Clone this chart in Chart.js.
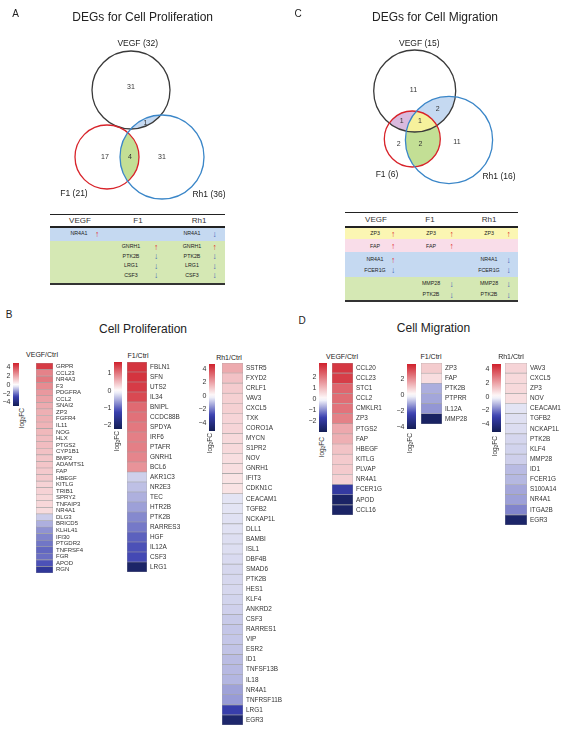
<!DOCTYPE html>
<html>
<head>
<meta charset="utf-8">
<script src="https://cdn.jsdelivr.net/npm/chart.js@4.4.1/dist/chart.umd.min.js"></script>
<style>
  body { margin: 0; width: 572px; height: 740px; position: relative; overflow: hidden; background: #fff;
         font-family: "Liberation Sans", Arial, sans-serif; color: #222; }
  canvas { position: absolute; }
  .t { position: absolute; transform: translate(-50%, -50%); white-space: nowrap; line-height: 1; }
  .lfc { position: absolute; transform: translate(-50%, -50%) rotate(-90deg); white-space: nowrap; line-height: 1; font-size: 6.5px; color: #333; }
  .lfc sub { font-size: 4.5px; vertical-align: -1px; }
  .band, .rule { position: absolute; }
  .up { color: #e0302c; }
  .down { color: #3a62b4; }
</style>
</head>
<body>
<script>
// ---- Venn counts ----
const prolifSetNames = ['VEGF', 'F1', 'Rh1'];
const prolifSetSizes = [32, 21, 36];
// regions: VEGF only, F1 only, F1∩Rh1, Rh1 only, VEGF∩Rh1
const prolifRegionCounts = [31, 17, 4, 31, 1];

const migSetNames = ['VEGF', 'F1', 'Rh1'];
const migSetSizes = [15, 6, 16];
// regions: VEGF only, VEGF∩Rh1, VEGF∩F1, all three, F1 only, F1∩Rh1, Rh1 only
const migRegionCounts = [11, 2, 1, 1, 2, 2, 11];

// ---- shared gene tables ----
const tableCols = ['VEGF', 'F1', 'Rh1'];
// [band, VEGF gene, dir, F1 gene, dir, Rh1 gene, dir]
const prolifShared = [
  [0, 'NR4A1', 'up', '', '', 'NR4A1', 'down'],
  [1, '', '', 'GNRH1', 'up', 'GNRH1', 'up'],
  [1, '', '', 'PTK2B', 'down', 'PTK2B', 'down'],
  [1, '', '', 'LRG1', 'down', 'LRG1', 'down'],
  [1, '', '', 'CSF3', 'down', 'CSF3', 'down']
];
const migShared = [
  [0, 'ZP3', 'up', 'ZP3', 'up', 'ZP3', 'up'],
  [1, 'FAP', 'up', 'FAP', 'up', '', ''],
  [2, 'NR4A1', 'up', '', '', 'NR4A1', 'down'],
  [2, 'FCER1G', 'down', '', '', 'FCER1G', 'down'],
  [3, '', '', 'MMP28', 'down', 'MMP28', 'down'],
  [3, '', '', 'PTK2B', 'down', 'PTK2B', 'down']
];

// ---- heatmaps (log2FC) ----
const prolifVegfGenes = ['GRPR', 'CCL23', 'NR4A3', 'F3', 'PDGFRA', 'CCL2', 'SNAI2', 'ZP3', 'FGFR4', 'IL11', 'NOG',
  'HLX', 'PTGS2', 'CYP1B1', 'BMP2', 'ADAMTS1', 'FAP', 'HBEGF', 'KITLG', 'TRIB1', 'SPRY2', 'TNFAIP3', 'NR4A1',
  'DLG3', 'BRICD5', 'KLHL41', 'IFI30', 'PTGDR2', 'TNFRSF4', 'FGR', 'APOD', 'RGN'];
const prolifVegfFC = [4.4, 2.8, 3.0, 2.6, 2.3, 2.1, 1.9, 1.8, 1.8, 1.7, 1.6,
  1.5, 1.5, 1.4, 1.3, 1.3, 1.2, 1.2, 1.0, 1.0, 0.9, 0.9, 0.8,
  -0.7, -1.1, -1.5, -1.7, -1.9, -2.1, -2.0, -2.4, -3.2];
const prolifVegfRange = [-4.8, 5.0];
const prolifVegfTicks = [4, 2, 0, -2, -4];

const prolifF1Genes = ['FBLN1', 'SFN', 'UTS2', 'IL34', 'BNIPL', 'CCDC88B', 'SPDYA', 'IRF6', 'PTAFR', 'GNRH1', 'BCL6',
  'AKR1C3', 'NR2E3', 'TEC', 'HTR2B', 'PTK2B', 'RARRES3', 'HGF', 'IL12A', 'CSF3', 'LRG1'];
const prolifF1FC = [1.5, 1.5, 1.45, 1.35, 1.1, 1.05, 1.0, 0.95, 0.95, 0.9, 0.8,
  -0.3, -0.4, -0.5, -0.6, -0.75, -0.85, -1.0, -1.1, -1.15, -2.0];
const prolifF1Range = [-2.2, 1.65];
const prolifF1Ticks = [1, 0, -1, -2];

const prolifRh1Genes = ['SSTR5', 'FXYD2', 'CRLF1', 'VAV3', 'CXCL5', 'TXK', 'CORO1A', 'MYCN', 'S1PR2', 'NOV', 'GNRH1',
  'IFIT3', 'CDKN1C', 'CEACAM1', 'TGFB2', 'NCKAP1L', 'DLL1', 'BAMBI', 'ISL1', 'DBF4B', 'SMAD6', 'PTK2B', 'HES1',
  'KLF4', 'ANKRD2', 'CSF3', 'RARRES1', 'VIP', 'ESR2', 'ID1', 'TNFSF13B', 'IL18', 'NR4A1', 'TNFRSF11B', 'LRG1', 'EGR3'];
const prolifRh1FC = [1.8, 1.3, 1.1, 1.0, 1.0, 0.9, 0.9, 0.8, 0.8, 0.7, 0.7,
  0.6, 0.6, -0.4, -0.4, -0.45, -0.45, -0.5, -0.5, -0.55, -0.6, -0.6, -0.6,
  -0.65, -0.7, -0.8, -0.85, -0.85, -0.9, -1.0, -1.05, -1.1, -1.4, -1.5, -3.0, -4.6];
const prolifRh1Range = [-5.2, 4.7];
const prolifRh1Ticks = [4, 2, 0, -2, -4];

const migVegfGenes = ['CCL20', 'CCL23', 'STC1', 'CCL2', 'CMKLR1', 'ZP3', 'PTGS2', 'FAP', 'HBEGF', 'KITLG', 'PLVAP',
  'NR4A1', 'FCER1G', 'APOD', 'CCL16'];
const migVegfFC = [3.0, 2.9, 2.3, 2.2, 2.1, 1.9, 1.3, 1.2, 0.9, 0.8, 0.8, 0.7, -1.9, -2.8, -2.8];
const migVegfRange = [-3.05, 3.35];
const migVegfTicks = [2, 1, 0, -1, -2];

const migF1Genes = ['ZP3', 'FAP', 'PTK2B', 'PTPRR', 'IL12A', 'MMP28'];
const migF1FC = [0.9, 0.6, -1.0, -1.1, -1.3, -4.0];
const migF1Range = [-4.3, 3.9];
const migF1Ticks = [2, 0, -2, -4];

const migRh1Genes = ['VAV3', 'CXCL5', 'ZP3', 'NOV', 'CEACAM1', 'TGFB2', 'NCKAP1L', 'PTK2B', 'KLF4', 'MMP28', 'ID1',
  'FCER1G', 'S100A14', 'NR4A1', 'ITGA2B', 'EGR3'];
const migRh1FC = [0.9, 0.8, 0.8, 0.7, -0.4, -0.45, -0.5, -0.6, -0.65, -0.7, -1.0, -1.05, -1.3, -1.4, -1.8, -4.6];
const migRh1Range = [-5.1, 4.7];
const migRh1Ticks = [4, 2, 0, -2, -4];

// ---------------------------------------------------------------
Chart.defaults.font.family = '"Liberation Sans", Arial, sans-serif';
Chart.defaults.color = '#333';
Chart.defaults.animation = false;
Chart.defaults.plugins.legend.display = false;
Chart.defaults.plugins.tooltip.enabled = false;

// blue - white - red colour map, white at 0
const negStops = [[0, [255, 255, 255]], [0.55, [58, 64, 176]], [1, [20, 30, 85]]];
const posStops = [[0, [255, 255, 255]], [1, [208, 32, 44]]];
function mix(stops, t) {
  t = Math.max(0, Math.min(1, t));
  for (let i = 1; i < stops.length; i++) {
    if (t <= stops[i][0]) {
      const [a, ca] = stops[i - 1], [b, cb] = stops[i];
      const f = (t - a) / (b - a);
      return 'rgb(' + ca.map((c, k) => Math.round(c + (cb[k] - c) * f)).join(',') + ')';
    }
  }
  return 'rgb(' + stops[stops.length - 1][1].join(',') + ')';
}
function fcColor(v, range) {
  return v >= 0 ? mix(posStops, v / range[1]) : mix(negStops, v / range[0]);
}

function addCanvas(x, y, w, h) {
  const c = document.createElement('canvas');
  c.width = w; c.height = h;
  c.style.left = x + 'px'; c.style.top = y + 'px';
  c.style.width = w + 'px'; c.style.height = h + 'px';
  document.body.appendChild(c);
  return c;
}
function text(str, x, y, size, extra) {
  const d = document.createElement('div');
  d.className = 't';
  d.innerHTML = str;
  d.style.left = x + 'px'; d.style.top = y + 'px'; d.style.fontSize = size + 'px';
  if (extra) Object.assign(d.style, extra);
  document.body.appendChild(d);
  return d;
}
function box(cls, x, y, w, h, color) {
  const d = document.createElement('div');
  d.className = cls;
  Object.assign(d.style, { left: x + 'px', top: y + 'px', width: w + 'px', height: h + 'px', background: color });
  document.body.appendChild(d);
}
function lfc(x, y) {
  const d = document.createElement('div');
  d.className = 'lfc';
  d.innerHTML = 'log<sub>2</sub>FC';
  d.style.left = x + 'px'; d.style.top = y + 'px';
  document.body.appendChild(d);
}

// ---- Venn ----
const vennPlugin = {
  id: 'venn',
  beforeDatasetsDraw(chart, args, opts) {
    const { ctx, scales: { x, y } } = chart;
    const circ = opts.circles.map(c => ({
      cx: x.getPixelForValue(c[0]), cy: y.getPixelForValue(c[1]),
      r: x.getPixelForValue(c[2]) - x.getPixelForValue(0)
    }));
    opts.fills.forEach(f => {
      ctx.save();
      f.sets.forEach(i => {
        ctx.beginPath();
        ctx.arc(circ[i].cx, circ[i].cy, circ[i].r, 0, Math.PI * 2);
        ctx.clip();
      });
      ctx.fillStyle = f.color;
      ctx.fillRect(0, 0, chart.width, chart.height);
      ctx.restore();
    });
    circ.forEach((c, i) => {
      ctx.beginPath();
      ctx.arc(c.cx, c.cy, c.r, 0, Math.PI * 2);
      ctx.strokeStyle = opts.strokes[i];
      ctx.lineWidth = 1.3;
      ctx.stroke();
    });
  },
  afterDatasetsDraw(chart, args, opts) {
    const { ctx } = chart;
    const meta = chart.getDatasetMeta(0);
    ctx.save();
    ctx.font = '7px "Liberation Sans", Arial, sans-serif';
    ctx.fillStyle = '#333';
    ctx.textAlign = 'center';
    ctx.textBaseline = 'middle';
    meta.data.forEach((pt, i) => ctx.fillText(String(opts.counts[i]), pt.x, pt.y));
    ctx.restore();
  }
};

function venn(x0, w, h, circles, strokes, fills, counts, countPos) {
  const canvas = addCanvas(x0, 0, w, h);
  new Chart(canvas, {
    type: 'scatter',
    data: { datasets: [{ data: countPos.map(p => ({ x: p[0], y: p[1] })), pointRadius: 0 }] },
    options: {
      responsive: false, devicePixelRatio: 1, layout: { padding: 0 },
      scales: {
        x: { display: false, min: 0, max: w },
        y: { display: false, min: 0, max: h, reverse: true }
      },
      plugins: { venn: { circles, strokes, fills, counts } }
    },
    plugins: [vennPlugin]
  });
}

const setStrokes = ['#3a3a3a', '#d8232a', '#3a86c8'];
const blueFill = '#c5d9f1', greenFill = '#c3df95';

venn(0, 286, 205,
  [[131, 90, 39], [107, 157, 32], [162, 157, 42]],
  setStrokes,
  [{ sets: [0, 2], color: blueFill }, { sets: [1, 2], color: greenFill }],
  prolifRegionCounts,
  [[131, 87], [105, 157], [130, 157], [162, 157], [145.5, 123]]);

venn(286, 286, 205,
  [[128.7, 91, 41], [126.3, 139, 28], [163, 140, 43.6]],
  setStrokes,
  [{ sets: [0, 1], color: '#d9bade' }, { sets: [0, 2], color: blueFill },
   { sets: [1, 2], color: greenFill }, { sets: [0, 1, 2], color: '#f6f19c' }],
  migRegionCounts,
  [[127.5, 90], [151.7, 109.5], [115.7, 121.5], [134, 121.5], [112.7, 144], [134.5, 144], [171, 142.5]]);

// titles and set labels
text('A', 15.5, 14, 10);
text('DEGs for Cell Proliferation', 142.7, 17, 12);
text(prolifSetNames[0] + ' (' + prolifSetSizes[0] + ')', 137.7, 43, 8.5);
text(prolifSetNames[1] + ' (' + prolifSetSizes[1] + ')', 74, 193, 8.5);
text(prolifSetNames[2] + ' (' + prolifSetSizes[2] + ')', 209, 193.5, 8.5);

text('C', 298, 14, 10);
text('DEGs for Cell Migration', 435, 17, 12);
text(migSetNames[0] + ' (' + migSetSizes[0] + ')', 419.3, 43, 8.5);
text(migSetNames[1] + ' (' + migSetSizes[1] + ')', 387, 173.5, 8.5);
text(migSetNames[2] + ' (' + migSetSizes[2] + ')', 499, 176, 8.5);

// ---- shared gene tables ----
function geneTable(rows, layout) {
  const { left, right, topRule, headY, headRule, bands, bandColors, rowY, geneX, arrowX, headX, bottom } = layout;
  const w = right - left;
  bands.forEach((b, i) => box('band', left, b[0], w, b[1] - b[0], bandColors[i]));
  box('rule', left, topRule, w, 1.2, '#222');
  box('rule', left, headRule, w, 2, '#222');
  box('rule', left, bottom, w, 2, '#333');
  tableCols.forEach((c, i) => text(c, headX[i], headY, 8, { color: '#333' }));
  rows.forEach((r, j) => {
    for (let c = 0; c < 3; c++) {
      const g = r[1 + c * 2], dir = r[2 + c * 2];
      if (!g) continue;
      text(g, geneX[c], rowY[j], 5.3, { color: '#222' });
      const a = text(dir === 'up' ? '\u2191' : '\u2193', arrowX[c], rowY[j] - 0.3, 8.5);
      a.classList.add(dir);
    }
  });
}

geneTable(prolifShared, {
  left: 50, right: 225, topRule: 213.5, headY: 220.5, headRule: 225.5, bottom: 282.5,
  bands: [[227.5, 241], [241, 282.5]], bandColors: [blueFill, '#d5e8b4'],
  rowY: [234, 247, 256.7, 266, 275.7],
  headX: [80, 138, 199], geneX: [79, 131, 192], arrowX: [97, 156, 214.5]
});

geneTable(migShared, {
  left: 345, right: 518, topRule: 211.5, headY: 220, headRule: 226, bottom: 300,
  bands: [[228, 239.3], [239.3, 252.3], [252.3, 276.7], [276.7, 300]],
  bandColors: ['#fbf6b3', '#f9dde9', blueFill, '#d5e8b4'],
  rowY: [234, 246.5, 260, 270.7, 284.3, 295],
  headX: [376, 430, 489], geneX: [375, 431, 489], arrowX: [393, 451.7, 508.7]
});

// ---- heatmaps ----
function heatmap(genes, fc, range, x, y, colW, rowH, labelW, fontSize) {
  const h = Math.round(genes.length * rowH);
  const canvas = addCanvas(x, y, colW + labelW, h);
  new Chart(canvas, {
    type: 'bar',
    data: {
      labels: genes,
      datasets: [{
        data: genes.map(() => 1),
        backgroundColor: fc.map(v => fcColor(v, range)),
        borderColor: '#a5a5a5', borderWidth: 0.6, borderSkipped: false,
        barPercentage: 1, categoryPercentage: 1
      }]
    },
    options: {
      responsive: false, devicePixelRatio: 1, indexAxis: 'y', layout: { padding: 0 },
      scales: {
        x: { display: false, min: 0, max: 1 },
        y: {
          position: 'right', grid: { display: false, drawTicks: false }, border: { display: false },
          ticks: { autoSkip: false, padding: 3, color: '#333', font: { size: fontSize } },
          afterFit(a) { a.width = labelW; a.paddingTop = 0; a.paddingBottom = 0; }
        }
      }
    }
  });
}

function colorbar(range, ticks, x, y, barW, h) {
  const tickW = 14;
  const canvas = addCanvas(x - tickW, y, tickW + barW, h);
  new Chart(canvas, {
    type: 'bar',
    data: {
      labels: [''],
      datasets: [{
        data: [range],
        backgroundColor(c) {
          const { chart } = c;
          if (!chart.chartArea) return null;
          const ys = chart.scales.y;
          const g = chart.ctx.createLinearGradient(0, ys.getPixelForValue(range[1]), 0, ys.getPixelForValue(range[0]));
          for (let i = 0; i <= 24; i++) {
            const v = range[1] + (range[0] - range[1]) * i / 24;
            g.addColorStop(i / 24, fcColor(v, range));
          }
          return g;
        },
        borderWidth: 0, barPercentage: 1, categoryPercentage: 1
      }]
    },
    options: {
      responsive: false, devicePixelRatio: 1, layout: { padding: 0 },
      scales: {
        x: { display: false },
        y: {
          min: range[0], max: range[1], position: 'left',
          grid: { display: false, drawTicks: false }, border: { display: false },
          ticks: { autoSkip: false, padding: 2.5, color: '#333', font: { size: 7 },
                   callback: v => (v < 0 ? '\u2212' + Math.abs(v) : String(v)) },
          afterBuildTicks(a) { a.ticks = ticks.map(v => ({ value: v })); },
          afterFit(a) { a.width = tickW; a.paddingTop = 0; a.paddingBottom = 0; }
        }
      }
    }
  });
}

text('B', 9, 315, 10);
text('Cell Proliferation', 143, 329, 12);
text('D', 302, 321, 10);
text('Cell Migration', 433.5, 328, 12);

text('VEGF/Ctrl', 42, 354, 7);
colorbar(prolifVegfRange, prolifVegfTicks, 13, 363, 6, 43);
lfc(23, 418);
heatmap(prolifVegfGenes, prolifVegfFC, prolifVegfRange, 36, 363, 17, 6.56, 50, 6);

text('F1/Ctrl', 138, 355, 7);
colorbar(prolifF1Range, prolifF1Ticks, 114, 362, 8, 67);
lfc(118, 441);
heatmap(prolifF1Genes, prolifF1FC, prolifF1Range, 127, 362, 20, 10, 50, 6.4);

text('Rh1/Ctrl', 229, 356.5, 7);
colorbar(prolifRh1Range, prolifRh1Ticks, 209, 364, 6, 67);
lfc(211, 443);
heatmap(prolifRh1Genes, prolifRh1FC, prolifRh1Range, 222, 363, 21, 10.06, 52, 6.4);

text('VEGF/Ctrl', 342, 356, 7);
colorbar(migVegfRange, migVegfTicks, 319, 363, 8, 69);
lfc(322.5, 447);
heatmap(migVegfGenes, migVegfFC, migVegfRange, 332, 363, 21, 10.1, 50, 6.4);

text('F1/Ctrl', 431, 356, 7);
colorbar(migF1Range, migF1Ticks, 407, 364, 9, 65);
lfc(410.5, 443);
heatmap(migF1Genes, migF1FC, migF1Range, 421, 363, 21, 10.1, 50, 6.4);

text('Rh1/Ctrl', 511, 356, 7);
colorbar(migRh1Range, migRh1Ticks, 492, 364, 9, 68);
lfc(496, 446);
heatmap(migRh1Genes, migRh1FC, migRh1Range, 505, 363, 22, 10.1, 45, 6.4);
</script>
</body>
</html>
